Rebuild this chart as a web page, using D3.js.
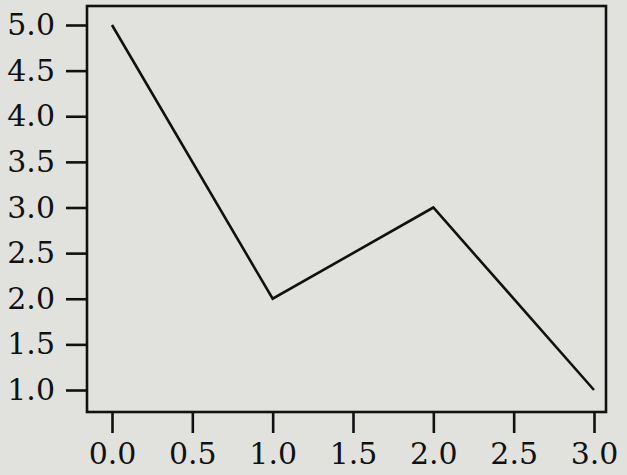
<!DOCTYPE html>
<html>
<head>
<meta charset="utf-8">
<script src="https://cdn.jsdelivr.net/npm/d3@7"></script>
<style>
  html, body { margin: 0; padding: 0; background: #e1e2de; }
  svg { display: block; }
</style>
</head>
<body>
<svg id="chart" width="627" height="475"></svg>
<script>
const xValues = [0, 1, 2, 3];
const yValues = [5, 2, 3, 1];
const xTicks = [0, 0.5, 1, 1.5, 2, 2.5, 3];
const yTicks = [1, 1.5, 2, 2.5, 3, 3.5, 4, 4.5, 5];

const svg = d3.select("#chart");
const W = 627, H = 475;
const frame = { left: 87, right: 606, top: 6, bottom: 412 };
const FONT = '"DejaVu Serif", "Liberation Serif", serif';

const x = d3.scaleLinear().domain([0, 3]).range([112, 594]);
const y = d3.scaleLinear().domain([1, 5]).range([390, 25]);

svg.append("rect").attr("width", W).attr("height", H).attr("fill", "#e1e2de");

// frame
svg.append("rect")
  .attr("x", frame.left).attr("y", frame.top)
  .attr("width", frame.right - frame.left)
  .attr("height", frame.bottom - frame.top)
  .attr("fill", "none").attr("stroke", "#111").attr("stroke-width", 2.6);

// y axis
const yAxis = d3.axisLeft(y).tickValues(yTicks).tickFormat(d3.format(".1f"))
  .tickSize(21).tickPadding(11);
const gy = svg.append("g").attr("transform", `translate(${frame.left},0)`).call(yAxis);
gy.select(".domain").remove();
gy.attr("font-size", null).attr("font-family", null);
gy.selectAll("line").attr("stroke", "#111").attr("stroke-width", 2.6);
gy.selectAll("text").style("font-size", "30px").attr("fill", "#111")
  .style("font-family", FONT);

// x axis
const xAxis = d3.axisBottom(x).tickValues(xTicks).tickFormat(d3.format(".1f"))
  .tickSize(21).tickPadding(10);
const gx = svg.append("g").attr("transform", `translate(0,${frame.bottom})`).call(xAxis);
gx.select(".domain").remove();
gx.attr("font-size", null).attr("font-family", null);
gx.selectAll("line").attr("stroke", "#111").attr("stroke-width", 2.6);
gx.selectAll("text").style("font-size", "30px").attr("fill", "#111")
  .style("font-family", FONT);

// line
const data = xValues.map((v, i) => [v, yValues[i]]);
svg.append("path")
  .datum(data)
  .attr("fill", "none")
  .attr("stroke", "#111")
  .attr("stroke-width", 2.6)
  .attr("d", d3.line().x(d => x(d[0])).y(d => y(d[1])));
</script>
</body>
</html>
